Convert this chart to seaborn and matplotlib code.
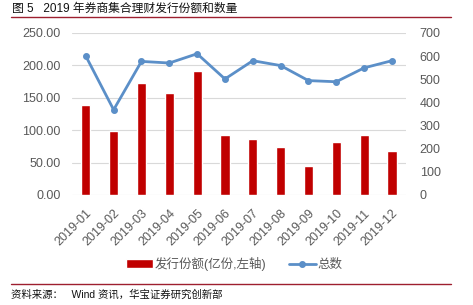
import numpy as np
import pandas as pd
import seaborn as sns
import matplotlib.pyplot as plt
from matplotlib.ticker import FormatStrFormatter

months = ['2019-01', '2019-02', '2019-03', '2019-04', '2019-05', '2019-06',
          '2019-07', '2019-08', '2019-09', '2019-10', '2019-11', '2019-12']
shares = [138, 99, 173, 157, 191.5, 93, 86, 74, 44, 82, 92.5, 68]
counts = [600, 368, 577, 570, 610, 501, 580, 559, 494, 489, 549, 580]

df = pd.DataFrame({'month': months, 'shares': shares, 'counts': counts})

sns.set_style('white')
plt.rcParams['font.family'] = ['Liberation Sans', 'Noto Sans CJK SC']
plt.rcParams['axes.unicode_minus'] = False

bar_color = '#C00000'
line_color = '#5B8FC8'
grey = '#595959'

fig = plt.figure(figsize=(4.73, 3.05), dpi=100)
ax = fig.add_axes([0.152, 0.361, 0.706, 0.531])

sns.barplot(data=df, x='month', y='shares', color=bar_color, width=0.33,
            saturation=1, ax=ax, label='发行份额(亿份,左轴)')
ax.set_ylim(0, 250)
ax.set_yticks(np.arange(0, 251, 50))
ax.yaxis.set_major_formatter(FormatStrFormatter('%.2f'))
ax.grid(axis='y', color='#D9D9D9', linewidth=0.8)
ax.set_axisbelow(True)

ax2 = ax.twinx()
sns.pointplot(data=df, x='month', y='counts', color=line_color, ax=ax2,
              markers='o', markersize=3.5, linewidth=2.0, label='总数')
ax2.set_ylim(0, 700)
ax2.set_yticks(np.arange(0, 701, 100))
ax.set_xlim(-0.5, 11.5)

for a in (ax, ax2):
    for s in a.spines.values():
        s.set_visible(False)
    a.set_xlabel('')
    a.set_ylabel('')
    a.tick_params(length=0, labelsize=9, labelcolor=grey)
ax.tick_params(axis='y', pad=8)
ax2.tick_params(axis='y', pad=10)
ax.set_xticks(range(len(months)))
ax.set_xticklabels(months, rotation=45, ha='right', rotation_mode='anchor')
ax.tick_params(axis='x', pad=9)

handles = [ax.patches[0], ax2.lines[0]]
for l in (ax.get_legend(), ax2.get_legend()):
    if l is not None:
        l.remove()
fig.legend(handles, ['发行份额(亿份,左轴)', '总数'], loc='center',
           bbox_to_anchor=(0.495, 1 - 264 / 305), ncol=2, frameon=False,
           fontsize=9, handlelength=2.2, columnspacing=1.8, handletextpad=0.1,
           labelcolor=grey)

fig.text(12 / 473, 1 - 9 / 305, '图 5   2019 年券商集合理财发行份额和数量',
         fontsize=8.5, va='center', ha='left', color='#111111')
fig.add_artist(plt.Line2D([11 / 473, 451 / 473], [1 - 16.5 / 305] * 2,
                          color='#9E1F2F', linewidth=1))
fig.add_artist(plt.Line2D([11 / 473, 451 / 473], [1 - 284 / 305] * 2,
                          color='#9E1F2F', linewidth=1))
fig.text(11 / 473, 1 - 295 / 305, '资料来源：   Wind 资讯，华宝证券研究创新部',
         fontsize=7.5, va='center', ha='left', color='#111111')

fig.savefig('out.png', dpi=100)
